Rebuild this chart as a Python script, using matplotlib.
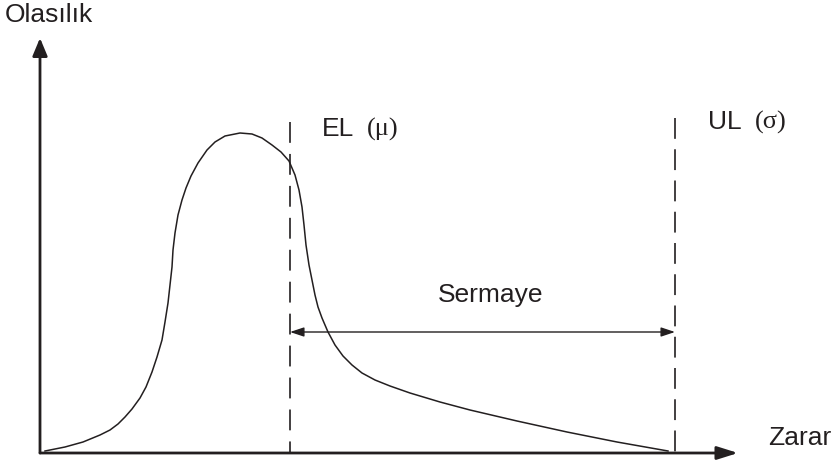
import matplotlib.pyplot as plt

plt.rcParams['font.family'] = ['Liberation Sans', 'DejaVu Sans']
plt.rcParams['lines.scale_dashes'] = False

# loss distribution (origin at the axes corner)
zarar = [5, 25, 43, 60, 70, 78, 85, 92, 100, 106, 112, 117, 122, 125, 128, 130, 132, 133,
         135, 138, 142, 146, 151, 158, 167, 175, 185, 200, 212, 222, 232, 241, 249, 255,
         259, 262, 264, 266, 269, 272, 275, 278, 282, 288, 295, 303, 312, 322, 335, 350,
         370, 400, 430, 477, 527, 577, 628]
olasilik = [2, 6, 11, 18, 23, 29, 36, 44, 55, 66, 81, 96, 113, 131, 150, 168, 186, 203,
            220, 238, 253, 265, 277, 290, 303, 311, 317, 320, 319, 315, 308, 301, 292, 278,
            263, 246, 228, 208, 188, 173, 158, 146, 135, 121, 108, 97, 88, 80, 73, 67,
            60, 51, 43, 32, 21, 11, 2]

el_x, el_top = 250, 331
ul_x, ul_top = 635, 335
sermaye_y = 121

ink = '#231f20'

fig = plt.figure(figsize=(8.37, 4.62), dpi=100)
ax = fig.add_axes([0, 0, 1, 1])
ax.set_xlim(-40, 797)
ax.set_ylim(-9, 453)
ax.axis('off')

# axes with arrows
ax.annotate('', xy=(0, 415), xytext=(0, 0),
            arrowprops=dict(arrowstyle='-|>,head_length=0.6,head_width=0.25', lw=2,
                            color=ink, mutation_scale=18, shrinkA=0, shrinkB=0))
ax.annotate('', xy=(698, 0), xytext=(0, 0),
            arrowprops=dict(arrowstyle='-|>,head_length=0.7,head_width=0.22', lw=2,
                            color=ink, mutation_scale=18, shrinkA=0, shrinkB=0))

ax.plot(zarar, olasilik, color=ink, lw=1.1, solid_joinstyle='round')

ax.plot([el_x, el_x], [el_top, 0], color=ink, lw=1.2, dashes=(15, 8))
ax.plot([ul_x, ul_x], [ul_top, 0], color=ink, lw=1.2, dashes=(15, 7.5))

ax.annotate('', xy=(el_x, sermaye_y), xytext=(ul_x, sermaye_y),
            arrowprops=dict(arrowstyle='<|-|>,head_length=0.6,head_width=0.2', lw=1,
                            color=ink, mutation_scale=14, shrinkA=0, shrinkB=0))

fs = 19
ax.text(-35, 431, 'Olasılık', fontsize=fs, color=ink, va='baseline')
ax.text(728, 8, 'Zarar', fontsize=fs, color=ink, va='baseline')
ax.text(451, 151, 'Sermaye', fontsize=fs, color=ink, va='baseline', ha='center')
ax.text(282, 317, 'EL', fontsize=fs, color=ink, va='baseline')
ax.text(327, 317, '(μ)', fontsize=fs, color=ink, va='baseline', family='Liberation Serif')
ax.text(668, 324, 'UL', fontsize=fs, color=ink, va='baseline')
ax.text(715, 324, '(σ)', fontsize=fs, color=ink, va='baseline', family='Liberation Serif')

plt.savefig('out.png', dpi=100)
